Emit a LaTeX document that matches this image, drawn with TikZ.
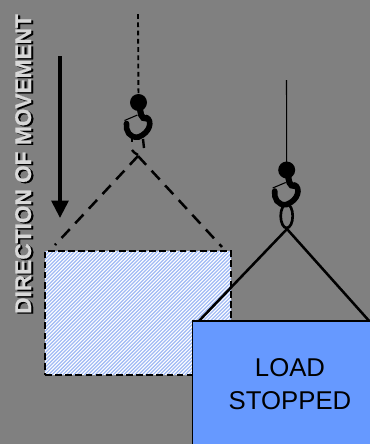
\documentclass[tikz,border=0pt]{standalone}
\usepackage{fontspec}
\setmainfont{Liberation Sans}
\newfontfamily\dirfont{Liberation Sans Bold}[FakeBold=0.6]
\usetikzlibrary{arrows.meta}
\definecolor{bg}{HTML}{808080}
\definecolor{loadblue}{HTML}{6699FF}
\definecolor{hatch}{HTML}{A0BAF5}
\definecolor{lighttext}{HTML}{D8D8D8}
\tikzset{
  sling/.style={line width=1.9pt,black},
  slingdash/.style={sling,dash pattern=on 9pt off 6pt},
  rope/.style={line width=0.8pt,black},
  dirtext/.style={font=\dirfont\fontsize{17}{17}\selectfont,rotate=90,inner sep=0pt},
}
\newcommand{\craneHook}{%
  \fill[black] (0,0) circle (8.5);
  \draw[line width=4.6pt,line cap=round] (2,4) .. controls (1,10) and (3,17) .. (8,16);
  \draw[line width=4.2pt,line cap=round] (8,15) .. controls (14,18) and (12,30) .. (0,34.5)
     .. controls (-9,36) and (-13,28) .. (-12,21);
  \draw[line width=0.8pt] (-14,18) -- (-1,12.5);
}
\begin{document}
\begin{tikzpicture}[x=0.75pt,y=-0.75pt]
\useasboundingbox (0,0) rectangle (370,444);
\fill[bg] (0,0) rectangle (370,444);
% ghost load
\begin{scope}
  \clip (45,251) rectangle (231,375);
  \fill[white] (45,251) rectangle (231,375);
  \foreach \i in {0,3.6,...,320}{
    \draw[hatch,line width=0.9pt] (45+\i-130,375) -- ++(130,-130);
  }
\end{scope}
\node[draw=black,line width=2.2pt,dash pattern=on 5pt off 2.6pt,outer sep=0pt,minimum width=139.5pt,minimum height=93pt,inner sep=0pt,anchor=north west] (ghost) at (45,251) {};
% direction arrow and label
\coordinate (arrowtop) at (60,56);
\coordinate (arrowtip) at (60,218);
\draw[line width=2.8pt,-{Triangle[length=13pt,width=12.5pt]}] (arrowtop) -- (arrowtip);
\node[dirtext,text=black] (dirshadow) at (25.3,165.3) {DIRECTION OF MOVEMENT};
\node[dirtext,text=lighttext] (dirlabel) at (23.2,164) {DIRECTION OF MOVEMENT};
% moving hook (dashed)
\coordinate (top1) at (138,14);
\coordinate (ball1) at (138.5,102.5);
\draw[line width=1.4pt,dash pattern=on 3.6pt off 2.6pt] (top1) -- (ball1);
\begin{scope}[shift={(138.5,102.5)}]\craneHook\end{scope}
\coordinate (apex1) at (138,156);
\coordinate (left1) at (55,245);
\coordinate (right1) at (222,247);
\draw[line width=1.8pt] (132,139) -- (132,142);
\draw[line width=1.8pt] (143,139) -- (144,148);
\draw[line width=1.8pt] (132,150) .. controls (133,152) and (135,153) .. (138,155);
\draw[slingdash] (apex1) -- (left1);
\draw[slingdash] (apex1) -- (right1);
% stopped hook
\coordinate (top2) at (286.5,80);
\coordinate (ball2) at (286.7,170);
\draw[rope] (top2) -- (ball2);
\begin{scope}[shift={(286.7,170)}]\craneHook\end{scope}
\draw[line width=2pt] (286.7,216) ellipse (6 and 12);
\coordinate (apex2) at (287,229);
\coordinate (left2) at (197,323);
\coordinate (right2) at (371,323);
\draw[sling] (left2) -- (apex2) -- (right2);
% stopped load
\node[draw=black,line width=0.8pt,fill=loadblue,outer sep=0pt,minimum width=138pt,minimum height=93pt,inner sep=0pt,anchor=north west] (load) at (192.5,321) {};
\node[font=\fontsize{19.3}{24.5}\selectfont,align=center,inner sep=0pt] (loadlabel) at (290,384) {LOAD\\STOPPED};
\end{tikzpicture}
\end{document}
